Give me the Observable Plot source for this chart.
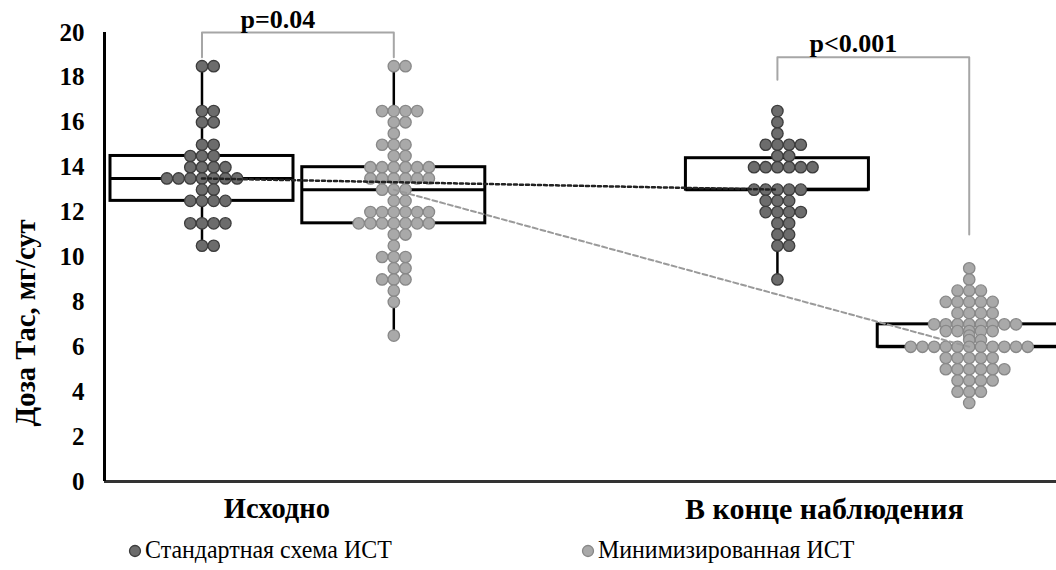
<!DOCTYPE html>
<html>
<head>
<meta charset="utf-8">
<script src="https://cdn.jsdelivr.net/npm/d3@7"></script>
<script src="https://cdn.jsdelivr.net/npm/@observablehq/plot@0.6"></script>
<style>
  body { margin: 0; background: #fff; }
  #wrap { position: relative; width: 1056px; height: 570px; overflow: hidden; background: #fff;
          font-family: "Liberation Serif", "Times New Roman", serif; }
  #legend { position: absolute; top: 537px; left: 0; width: 1056px; height: 30px; font-size: 26px; line-height: 26px; color: #000; }
  .item { position: absolute; top: 0; white-space: nowrap; }
  .item svg { position: absolute; top: 7px; }
  .item span { display: inline-block; transform: scaleX(0.92); transform-origin: left center; }
</style>
</head>
<body>
<div id="wrap">
  <div id="chart"></div>
  <div id="legend"></div>
</div>
<script>
// ---------- data ----------
const groupNames = ["Исходно", "В конце наблюдения"];
const seriesNames = ["Стандартная схема ИСТ", "Минимизированная ИСТ"];

const stdBaseline = [18.5, 18.5, 16.5, 16.5, 16, 16, 15, 15, 14.5, 14.5, 14.5,
  14, 14, 14, 14, 13.5, 13.5, 13.5, 13.5, 13.5, 13.5, 13.5, 13, 13,
  12.5, 12.5, 12.5, 12.5, 11.5, 11.5, 11.5, 11.5, 10.5, 10.5];

const minBaseline = [18.5, 18.5, 16.5, 16.5, 16.5, 16.5, 16, 16, 15.5, 15, 15, 15,
  14.5, 14.5, 14, 14, 14, 14, 14, 14, 13.5, 13.5, 13.5, 13.5, 13.5, 13.5,
  13, 13, 13, 12.5, 12.5, 12, 12, 12, 12, 12, 12,
  11.5, 11.5, 11.5, 11.5, 11.5, 11.5, 11.5, 11, 11, 10.5, 10, 10, 10,
  9.5, 9.5, 9, 9, 9, 8.5, 8, 6.5];

const stdEnd = [16.5, 16, 15.5, 15, 15, 15, 15, 14.5, 14.5,
  14, 14, 14, 14, 14, 14, 13, 13, 13, 13, 13, 12.5, 12.5, 12.5,
  12, 12, 12, 12, 11.5, 11.5, 11, 11, 10.5, 10.5, 9];

const minEnd = [9.5, 9, 8.5, 8.5, 8.5, 8, 8, 8, 8, 8, 7.5, 7.5, 7.5, 7.5,
  7, 7, 7, 7, 7, 7, 7, 7, 6.7, 6.7, 6.7, 6.7, 6.7, 6.5, 6.3, 6.3,
  6, 6, 6, 6, 6, 6, 6, 6, 6, 6, 6, 5.5, 5.5, 5.5, 5.5, 5.5,
  5, 5, 5, 5, 5, 5, 4.5, 4.5, 4.5, 4.5, 4, 4, 4, 3.5];

// box statistics (order: std base, min base, std end, min end)
const boxQ1     = [12.5, 11.5, 13.0, 6.0];
const boxMedian = [13.5, 13.0, 13.0, 6.0];
const boxQ3     = [14.5, 14.0, 14.4, 7.0];

const pLabels = ["p=0.04", "p<0.001"];
const bracketTop = [20, 18.9];
const bracketLegLeft = [18.9, 17.9];
const bracketLegRight = [18.9, 11.0];

const yTicks = [0, 2, 4, 6, 8, 10, 12, 14, 16, 18, 20];
const yLabel = "Доза Тас, мг/сут";

// ---------- layout ----------
const W = 1056, H = 525, ML = 104, MR = 0;
const xDomain = [0.4917, 5.455];
const pxPerUnit = (W - ML - MR) / (xDomain[1] - xDomain[0]);
const dotStep = 11.7 / pxPerUnit;
const halfBox = 91.5 / pxPerUnit;
const pos = (g, s) => 1 + 3 * g + s;

const seriesValues = [[stdBaseline, minBaseline], [stdEnd, minEnd]];
const boxes = [];
seriesValues.forEach((arr, g) => arr.forEach((vals, s) => {
  const i = boxes.length;
  boxes.push({g, s, pos: pos(g, s), values: vals,
    lo: d3.min(vals), hi: d3.max(vals),
    q1: boxQ1[i], median: boxMedian[i], q3: boxQ3[i]});
}));

function swarm(b) {
  const rows = d3.group(b.values, v => v);
  const out = [];
  for (const [v, arr] of rows) {
    const k0 = -Math.floor((arr.length - 1) / 2);
    arr.forEach((_, i) => out.push({s: b.s, value: v, x: b.pos + (k0 + i) * dotStep}));
  }
  return out;
}
const points = boxes.flatMap(swarm);

const brackets = pLabels.map((label, i) => ({label, left: pos(i, 0), right: pos(i, 1),
  top: bracketTop[i], legL: bracketLegLeft[i], legR: bracketLegRight[i]}));
const bracketPath = brackets.flatMap((b, i) => [
  {b: i, x: b.left, y: b.legL}, {b: i, x: b.left, y: b.top},
  {b: i, x: b.right, y: b.top}, {b: i, x: b.right, y: b.legR}]);

const fills = ["#6c6c6c", "#a9a9a9"];
const strokes = ["#3c3c3c", "#888888"];

const plot = Plot.plot({
  width: W, height: H,
  marginLeft: ML, marginRight: MR, marginTop: 32, marginBottom: 44,
  style: {fontFamily: "'Liberation Serif', 'Times New Roman', serif", color: "#000", background: "#fff"},
  x: {type: "linear", domain: xDomain, axis: null},
  y: {domain: [0, 20], axis: null},
  marks: [
    Plot.axisY({ticks: yTicks, tickSize: 0, tickPadding: 20, label: null, fontSize: 25, fontWeight: "bold"}),
    Plot.text([yLabel], {frameAnchor: "left", text: d => d, rotate: -90, dx: -79, dy: 66,
      fontSize: 28.5, fontWeight: "bold", textAnchor: "middle", lineAnchor: "middle"}),
    Plot.ruleY([0], {stroke: "#333", strokeWidth: 3}),
    Plot.ruleX([xDomain[0]], {y1: 0, y2: 20, stroke: "#000", strokeWidth: 3}),
    // whiskers
    Plot.ruleX(boxes, {x: "pos", y1: "lo", y2: "q1", stroke: "#000", strokeWidth: 2.5}),
    Plot.ruleX(boxes, {x: "pos", y1: "q3", y2: "hi", stroke: "#000", strokeWidth: 2.5}),
    // boxes
    Plot.rect(boxes, {x1: d => d.pos - halfBox, x2: d => d.pos + halfBox, y1: "q1", y2: "q3",
      fill: "none", stroke: "#000", strokeWidth: 3}),
    Plot.ruleY(boxes, {y: "median", x1: d => d.pos - halfBox, x2: d => d.pos + halfBox,
      stroke: "#000", strokeWidth: 3}),
    // dots
    Plot.dot(points.filter(d => d.s === 0), {x: "x", y: "value", r: 5.7, fill: fills[0], stroke: strokes[0], strokeWidth: 1.3}),
    Plot.dot(points.filter(d => d.s === 1), {x: "x", y: "value", r: 5.7, fill: fills[1], stroke: strokes[1], strokeWidth: 1.3}),
    // median connecting lines
    Plot.line(boxes.filter(d => d.s === 0), {x: "pos", y: "median", stroke: "#222", strokeWidth: 2.5, strokeDasharray: "3,3"}),
    Plot.line(boxes.filter(d => d.s === 1), {x: "pos", y: "median", stroke: "#9a9a9a", strokeWidth: 2, strokeDasharray: "5,3"}),
    // brackets
    Plot.line(bracketPath, {x: "x", y: "y", z: "b", stroke: "#a6a6a6", strokeWidth: 2}),
    Plot.text(brackets, {x: d => (d.left + d.right) / 2, y: "top", text: "label", dx: -20, dy: -5,
      lineAnchor: "bottom", fontSize: 26, fontWeight: "bold"}),
    // category labels
    Plot.text([groupNames[0]], {x: () => pos(0, 0) + 0.5, y: () => 0, text: d => d, dx: -21, dy: 16,
      lineAnchor: "top", fontSize: 28.5, fontWeight: "bold"}),
    Plot.text([groupNames[1]], {x: () => pos(1, 0) + 0.5, y: () => 0, text: d => d, dx: -49, dy: 16,
      lineAnchor: "top", fontSize: 30, fontWeight: "bold"})
  ]
});
document.getElementById("chart").appendChild(plot);

// legend
const legend = document.getElementById("legend");
const legendLeft = [128, 581];
seriesNames.forEach((name, i) => {
  const item = document.createElement("div");
  item.className = "item";
  item.style.left = legendLeft[i] + "px";
  item.innerHTML = `<svg width="14" height="14"><circle cx="7" cy="7" r="5.5" fill="${fills[i]}" stroke="${strokes[i]}" stroke-width="1.3"></circle></svg><span style="margin-left:17px">${name}</span>`;
  legend.appendChild(item);
});
</script>
</body>
</html>
